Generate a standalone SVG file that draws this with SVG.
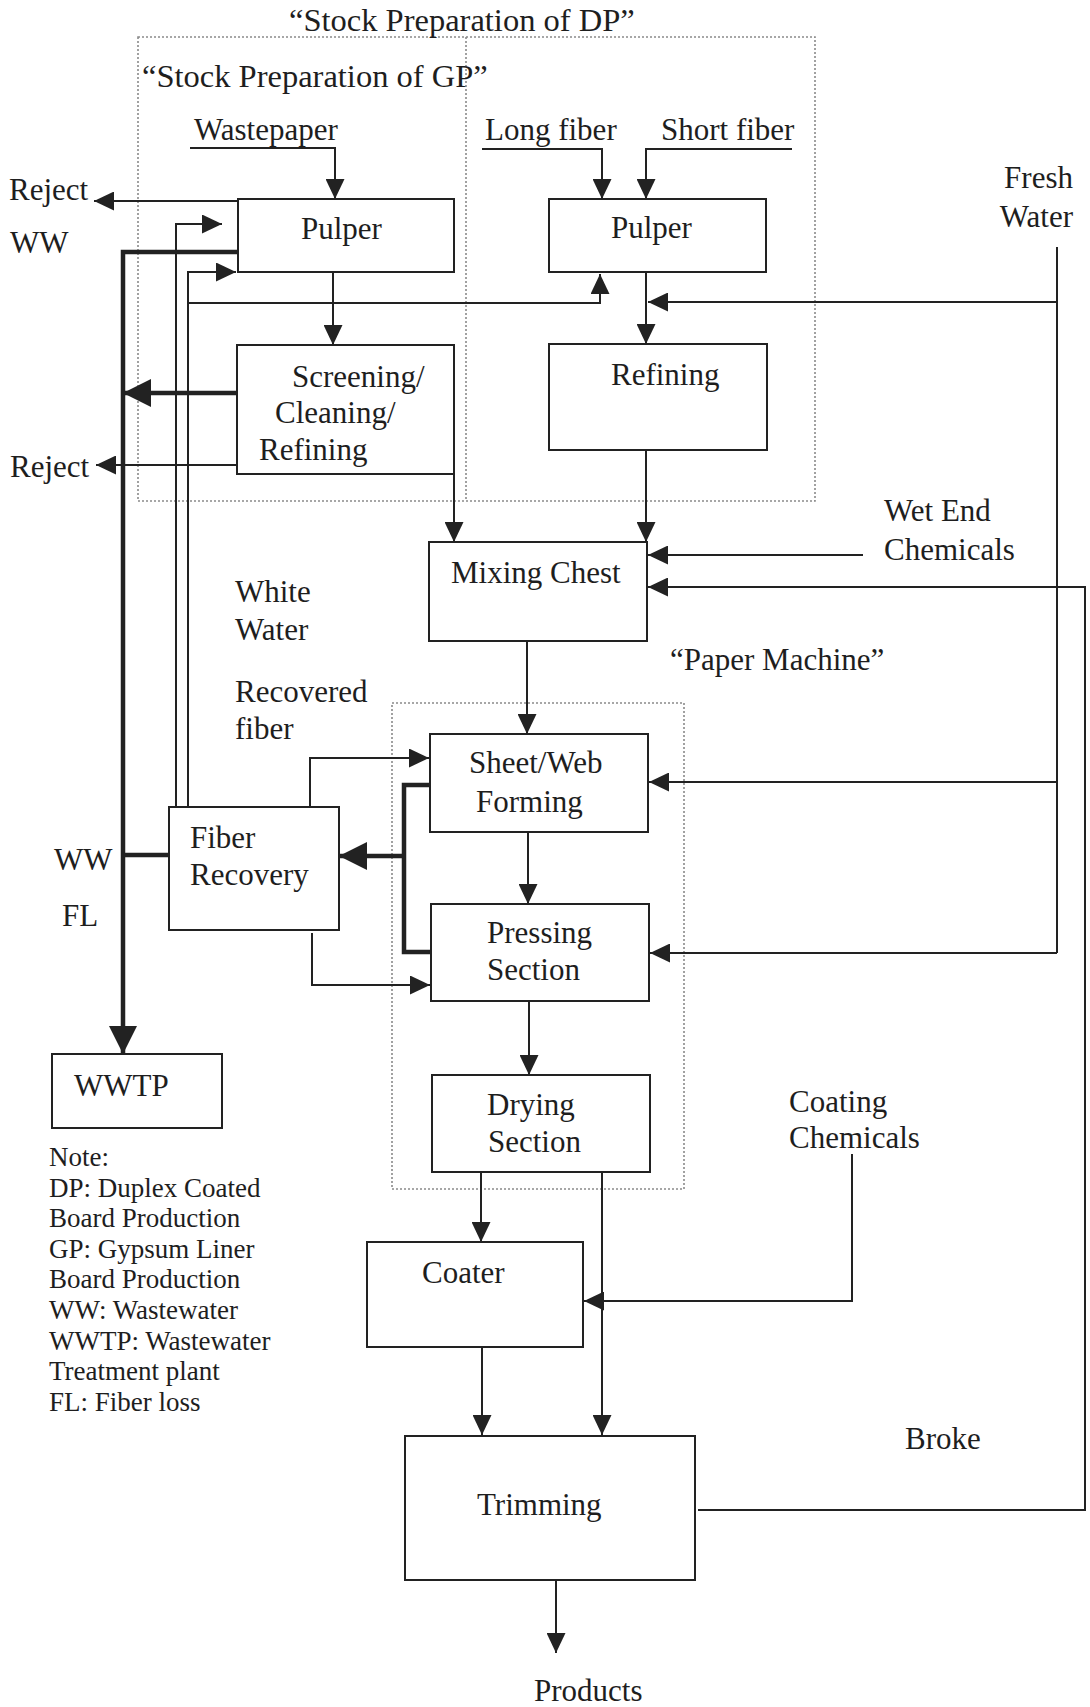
<svg xmlns="http://www.w3.org/2000/svg" width="1090" height="1707" viewBox="0 0 1090 1707">
<style>
text{font-family:"Liberation Serif","Times New Roman",serif;font-size:31px;fill:#1e1e1e}
.note{font-size:27px}
.ttl{font-size:32.5px}
.box{fill:#fff;stroke:#222;stroke-width:2}
.dot{fill:none;stroke:#8a8a8a;stroke-width:1.6;stroke-dasharray:2 2}
.ln{fill:none;stroke:#222;stroke-width:2}
.thk{fill:none;stroke:#222;stroke-width:4.5}
</style>
<defs>
<marker id="a" viewBox="0 0 20 19" refX="20" refY="9.5" markerWidth="20" markerHeight="19" markerUnits="userSpaceOnUse" orient="auto"><path d="M0,0 L20,9.5 L0,19 z" fill="#222"/></marker>
<marker id="A" viewBox="0 0 28 28" refX="28" refY="14" markerWidth="28" markerHeight="28" markerUnits="userSpaceOnUse" orient="auto"><path d="M0,0 L28,14 L0,28 z" fill="#222"/></marker>
</defs>
<rect width="1090" height="1707" fill="#fff"/>

<g id="groups">
<rect class="dot" x="138" y="37" width="677" height="464"/>
<line class="dot" x1="466" y1="37" x2="466" y2="501"/>
<rect class="dot" x="392" y="703" width="292" height="486"/>
<text class="ttl" x="289" y="31">“Stock Preparation of DP”</text>
<text class="ttl" x="142" y="87">“Stock Preparation of GP”</text>
<text x="670" y="670">“Paper Machine”</text>
</g>

<g id="connectors">
<polyline class="ln" points="190,148 335,148 335,199" marker-end="url(#a)"/>
<polyline class="ln" points="482,149 602,149 602,199" marker-end="url(#a)"/>
<polyline class="ln" points="792,149 646,149 646,199" marker-end="url(#a)"/>
<line class="ln" x1="238" y1="201" x2="94" y2="201" marker-end="url(#a)"/>
<polyline class="thk" points="240,252 123,252 123,1054" marker-end="url(#A)"/>
<polyline class="ln" points="176,807 176,224 222,224" marker-end="url(#a)"/>
<polyline class="ln" points="188,807 188,272 236,272" marker-end="url(#a)"/>
<polyline class="ln" points="188,303 600,303 600,274" marker-end="url(#a)"/>
<line class="ln" x1="333" y1="273" x2="333" y2="345" marker-end="url(#a)"/>
<line class="thk" x1="237" y1="393" x2="123" y2="393" marker-end="url(#A)"/>
<line class="ln" x1="237" y1="465" x2="96" y2="465" marker-end="url(#a)"/>
<line class="ln" x1="454" y1="474" x2="454" y2="542" marker-end="url(#a)"/>
<line class="ln" x1="646" y1="272" x2="646" y2="344" marker-end="url(#a)"/>
<line class="ln" x1="1057" y1="247" x2="1057" y2="953"/>
<line class="ln" x1="1057" y1="302" x2="648" y2="302" marker-end="url(#a)"/>
<line class="ln" x1="1057" y1="782" x2="649" y2="782" marker-end="url(#a)"/>
<line class="ln" x1="1057" y1="953" x2="650" y2="953" marker-end="url(#a)"/>
<line class="ln" x1="646" y1="450" x2="646" y2="542" marker-end="url(#a)"/>
<line class="ln" x1="863" y1="555" x2="648" y2="555" marker-end="url(#a)"/>
<polyline class="ln" points="698,1510 1085,1510 1085,587 648,587" marker-end="url(#a)"/>
<line class="ln" x1="527" y1="641" x2="527" y2="734" marker-end="url(#a)"/>
<line class="ln" x1="528" y1="832" x2="528" y2="904" marker-end="url(#a)"/>
<line class="ln" x1="529" y1="1001" x2="529" y2="1075" marker-end="url(#a)"/>
<line class="ln" x1="481" y1="1172" x2="481" y2="1242" marker-end="url(#a)"/>
<line class="ln" x1="602" y1="1172" x2="602" y2="1435" marker-end="url(#a)"/>
<line class="ln" x1="482" y1="1347" x2="482" y2="1435" marker-end="url(#a)"/>
<polyline class="ln" points="852,1154 852,1301 584,1301" marker-end="url(#a)"/>
<line class="ln" x1="556" y1="1580" x2="556" y2="1653" marker-end="url(#a)"/>
<polyline class="thk" points="430,785 404,785 404,952 431,952"/>
<line class="thk" x1="404" y1="856" x2="339" y2="856" marker-end="url(#A)"/>
<line class="thk" x1="169" y1="855" x2="123" y2="855"/>
<polyline class="ln" points="310,807 310,758 429,758" marker-end="url(#a)"/>
<polyline class="ln" points="312,933 312,985 430,985" marker-end="url(#a)"/>
</g>

<g id="labels">
<text x="194" y="140">Wastepaper</text>
<text x="485" y="140">Long fiber</text>
<text x="661" y="140">Short fiber</text>
<text x="9" y="200">Reject</text>
<text x="10" y="253">WW</text>
<text x="1073" y="188" text-anchor="end">Fresh</text>
<text x="1073" y="227" text-anchor="end">Water</text>
<text x="10" y="477">Reject</text>
<text x="884" y="521">Wet End</text>
<text x="884" y="560">Chemicals</text>
<text x="235" y="602">White</text>
<text x="235" y="640">Water</text>
<text x="235" y="702">Recovered</text>
<text x="235" y="739">fiber</text>
<text x="54" y="870">WW</text>
<text x="62" y="926">FL</text>
<text x="789" y="1112">Coating</text>
<text x="789" y="1148">Chemicals</text>
<text x="905" y="1449">Broke</text>
<text x="534" y="1701">Products</text>
</g>

<g id="note">
<text class="note" x="49" y="1166">Note:</text>
<text class="note" x="49" y="1197">DP: Duplex Coated</text>
<text class="note" x="49" y="1227">Board Production</text>
<text class="note" x="49" y="1258">GP: Gypsum Liner</text>
<text class="note" x="49" y="1288">Board Production</text>
<text class="note" x="49" y="1319">WW: Wastewater</text>
<text class="note" x="49" y="1350">WWTP: Wastewater</text>
<text class="note" x="49" y="1380">Treatment plant</text>
<text class="note" x="49" y="1411">FL: Fiber loss</text>
</g>

<g id="gp-pulper"><rect class="box" x="238" y="199" width="216" height="73"/><text x="301" y="239">Pulper</text></g>
<g id="screening"><rect class="box" x="237" y="345" width="217" height="129"/><text x="292" y="387">Screening/</text><text x="275" y="423">Cleaning/</text><text x="259" y="460">Refining</text></g>
<g id="dp-pulper"><rect class="box" x="549" y="199" width="217" height="73"/><text x="611" y="238">Pulper</text></g>
<g id="refining"><rect class="box" x="549" y="344" width="218" height="106"/><text x="611" y="385">Refining</text></g>
<g id="mixing-chest"><rect class="box" x="429" y="542" width="218" height="99"/><text x="451" y="583">Mixing Chest</text></g>
<g id="sheet-forming"><rect class="box" x="430" y="734" width="218" height="98"/><text x="469" y="773">Sheet/Web</text><text x="476" y="812">Forming</text></g>
<g id="pressing"><rect class="box" x="431" y="904" width="218" height="97"/><text x="487" y="943">Pressing</text><text x="487" y="980">Section</text></g>
<g id="drying"><rect class="box" x="432" y="1075" width="218" height="97"/><text x="487" y="1115">Drying</text><text x="488" y="1152">Section</text></g>
<g id="coater"><rect class="box" x="367" y="1242" width="216" height="105"/><text x="422" y="1283">Coater</text></g>
<g id="trimming"><rect class="box" x="405" y="1436" width="290" height="144"/><text x="477" y="1515">Trimming</text></g>
<g id="fiber-recovery"><rect class="box" x="169" y="807" width="170" height="123"/><text x="190" y="848">Fiber</text><text x="190" y="885">Recovery</text></g>
<g id="wwtp"><rect class="box" x="52" y="1054" width="170" height="74"/><text x="74" y="1096">WWTP</text></g>
</svg>
